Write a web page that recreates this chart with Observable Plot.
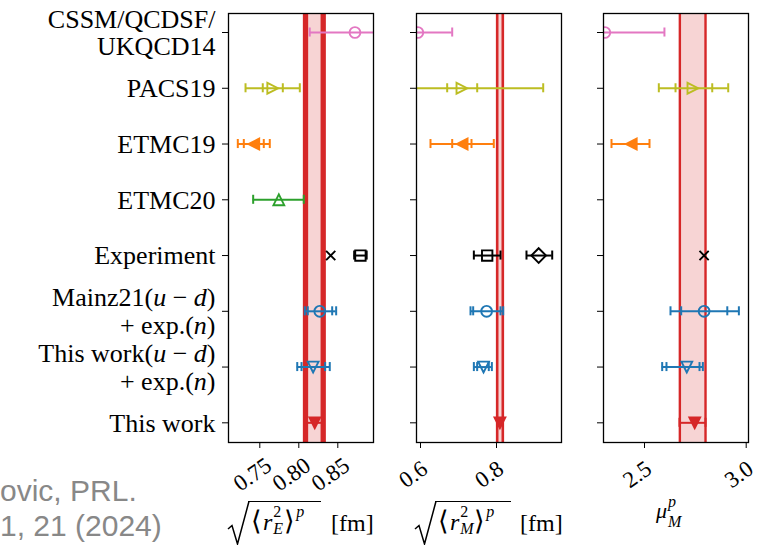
<!DOCTYPE html>
<html><head><meta charset="utf-8">
<script src="https://cdn.jsdelivr.net/npm/d3@7"></script>
<script src="https://cdn.jsdelivr.net/npm/@observablehq/plot@0.6"></script>
<style>
body{margin:0;background:#fff;}
#fig{position:relative;width:768px;height:545px;overflow:hidden;background:#fff;}
#fig > svg{position:absolute;left:0;top:0;}
.lab{position:absolute;height:47px;font:22px "Liberation Serif",serif;line-height:22px;color:#000;white-space:nowrap;}
.lab > *{position:absolute;}
.ov{box-sizing:border-box;border-top:1.6px solid #000;padding:7px 0 0 3px;font-size:24px;line-height:24px;}
.ss{display:inline-block;position:relative;width:12px;height:0;}
.ss .up{position:absolute;left:1px;bottom:10px;font-size:16px;line-height:16px;}
.ss .dn{position:absolute;left:1px;top:-9px;font-size:16px;line-height:16px;}
.br{display:inline-block;font-size:27px;line-height:24px;}
.fm{font-size:24px;line-height:24px;}
#cap{position:absolute;left:0;top:473px;font:30px "Liberation Sans",Arial,sans-serif;color:#888;line-height:35px;white-space:nowrap;}
</style></head><body><div id="fig"></div>
<script>
// ---------- categories (y tick labels, top to bottom) ----------
const categories = [
  "CSSM/QCDSF/\nUKQCD14",
  "PACS19",
  "ETMC19",
  "ETMC20",
  "Experiment",
  "Mainz21(_u_ − _d_)\n+ exp.(_n_)",
  "This work(_u_ − _d_)\n+ exp.(_n_)",
  "This work"
];
const rowIndex = [0, 1, 2, 3, 4, 5, 6, 7];

// ---------- panel 1: electric radius sqrt(<r_E^2>) [fm] ----------
const rERow    = [0, 1, 2, 3, 4, 4, 5, 6, 7];
const rEKind   = ["CSSM", "PACS19", "ETMC19", "ETMC20", "ExpMuH", "ExpEp", "Mainz21", "ThisUD", "ThisWork"];
const rEValue  = [0.872, 0.7666, 0.7423, 0.7744, 0.8409, 0.879, 0.8269, 0.8184, 0.8205];
const rEStatLo = [null, 0.7538, 0.7295, null, null, null, 0.8115, 0.8035, null];
const rEStatHi = [null, 0.7795, 0.7551, null, null, null, 0.8428, 0.8338, null];
const rETotLo  = [0.814, 0.7317, 0.7218, 0.7415, null, 0.871, 0.8077, 0.798, 0.8086];
const rETotHi  = [0.930, 0.8013, 0.7628, 0.8064, null, 0.887, 0.8479, 0.8397, 0.8313];
const rEBand   = [0.8086, 0.8313];
const rEDomain = [0.70987, 0.89577];
const rETicks  = [0.75, 0.80, 0.85];
const rETickLabels = ["0.75", "0.80", "0.85"];

// ---------- panel 2: magnetic radius sqrt(<r_M^2>) [fm] ----------
const rMRow    = [0, 1, 2, 4, 4, 5, 6, 7];
const rMKind   = ["CSSM", "PACS19", "ETMC19", "ExpEp", "ExpOther", "Mainz21", "ThisUD", "ThisWork"];
const rMValue  = [0.593, 0.709, 0.7096, 0.7755, 0.911, 0.774, 0.766, 0.809];
const rMStatLo = [null, 0.6702, 0.6834, null, null, 0.7386, 0.7491, null];
const rMStatHi = [null, 0.7492, 0.7342, null, null, 0.8105, 0.7797, null];
const rMTotLo  = [0.497, 0.495, 0.6263, 0.7404, 0.8789, 0.7316, 0.7404, 0.8018];
const rMTotHi  = [0.6834, 0.9229, 0.7929, 0.8105, 0.9466, 0.8176, 0.7878, 0.8166];
const rMBand   = [0.8018, 0.8166];
const rMDomain = [0.58947, 0.97105];
const rMTicks  = [0.6, 0.8];
const rMTickLabels = ["0.6", "0.8"];

// ---------- panel 3: magnetic moment mu_M^p ----------
const muRow    = [0, 1, 2, 4, 5, 6, 7];
const muKind   = ["CSSM", "PACS19", "ETMC19", "ExpMuH", "Mainz21", "ThisUD", "ThisWork"];
const muValue  = [2.305, 2.738, 2.435, 2.793, 2.793, 2.708, 2.747];
const muStatLo = [null, 2.6525, null, null, 2.6803, 2.608, null];
const muStatHi = [null, 2.833, null, null, 2.907, 2.7705, null];
const muTotLo  = [2.01, 2.5704, 2.3377, null, 2.6278, 2.5869, 2.672];
const muTotHi  = [2.598, 2.9116, 2.5246, null, 2.964, 2.7869, 2.800];
const muBand   = [2.6738, 2.800];
const muDomain = [2.2984, 3.0113];
const muTicks  = [2.5, 3.0];
const muTickLabels = ["2.5", "3.0"];

// ---------- styles ----------
const R = s => Math.sqrt(s / Math.PI);
const poly = pts => ({draw(ctx, size) {
  const r = R(size);
  ctx.moveTo(pts[0][0] * r, pts[0][1] * r);
  for (let k = 1; k < pts.length; k++) ctx.lineTo(pts[k][0] * r, pts[k][1] * r);
  ctx.closePath();
}});
const symbols = {
  circle: {draw(ctx, size) { const r = R(size); ctx.moveTo(r, 0); ctx.arc(0, 0, r, 0, 2 * Math.PI); }},
  triDown: poly([[0, 1], [-1, -1], [1, -1]]),
  triUp: poly([[0, -1], [-1, 1], [1, 1]]),
  triLeft: poly([[-1, 0], [1, -1], [1, 1]]),
  triRight: poly([[1, 0], [-1, -1], [-1, 1]]),
  square: poly([[-1, -1], [1, -1], [1, 1], [-1, 1]]),
  diamond: poly([[0, -1.41], [1.41, 0], [0, 1.41], [-1.41, 0]]),
  x: {draw(ctx, size) { const r = R(size); ctx.moveTo(-r, -r); ctx.lineTo(r, r); ctx.moveTo(-r, r); ctx.lineTo(r, -r); }}
};
const styles = {
  CSSM:     {color: "#e377c2", symbol: "circle",   filled: false, r: 5.4},
  PACS19:   {color: "#bcbd22", symbol: "triRight", filled: false, r: 5.4},
  ETMC19:   {color: "#ff7f0e", symbol: "triLeft",  filled: true,  r: 5.4},
  ETMC20:   {color: "#2ca02c", symbol: "triUp",    filled: false, r: 5.4},
  ExpMuH:   {color: "#000000", symbol: "x",        filled: false, r: 4.6},
  ExpEp:    {color: "#000000", symbol: "square",   filled: false, r: 5.2},
  ExpOther: {color: "#000000", symbol: "diamond",  filled: false, r: 5.2},
  Mainz21:  {color: "#1f77b4", symbol: "circle",   filled: false, r: 5.4},
  ThisUD:   {color: "#1f77b4", symbol: "triDown",  filled: false, r: 5.4},
  ThisWork: {color: "#d62728", symbol: "triDown",  filled: true,  r: 5.4}
};
const bandColor = "#d62728";
const capHalf = 0.081;  // in row units

function italicize(svg) {
  const NS = "http://www.w3.org/2000/svg";
  const walker = document.createTreeWalker(svg, NodeFilter.SHOW_TEXT);
  const nodes = [];
  while (walker.nextNode()) if (walker.currentNode.nodeValue.indexOf("_") >= 0) nodes.push(walker.currentNode);
  nodes.forEach(node => {
    const parent = node.parentNode;
    node.nodeValue.split("_").forEach((part, k) => {
      if (!part) return;
      if (k % 2) {
        const ts = document.createElementNS(NS, "tspan");
        ts.setAttribute("font-style", "italic");
        ts.textContent = part;
        parent.insertBefore(ts, node);
      } else {
        parent.insertBefore(document.createTextNode(part), node);
      }
    });
    parent.removeChild(node);
  });
}

function panel(o) {
  const idx = d3.range(o.value.length);
  const col = i => styles[o.kind[i]].color;
  const bars = [];
  const caps = [];
  idx.forEach(i => {
    if (o.totLo[i] != null) {
      bars.push({y: o.row[i], x1: o.totLo[i], x2: o.totHi[i], c: col(i)});
      caps.push({y: o.row[i], x: o.totLo[i], c: col(i)}, {y: o.row[i], x: o.totHi[i], c: col(i)});
    }
    if (o.statLo[i] != null) {
      caps.push({y: o.row[i], x: o.statLo[i], c: col(i)}, {y: o.row[i], x: o.statHi[i], c: col(i)});
    }
  });
  const marks = [
    Plot.rect([o.band], {x1: d => d[0], x2: d => d[1], fill: bandColor, fillOpacity: 0.2}),
    Plot.ruleX(o.band, {x: d => d, stroke: bandColor, strokeWidth: o.bandWidth}),
    Plot.ruleY(bars, {y: "y", x1: "x1", x2: "x2", stroke: "c", strokeWidth: 2, clip: true}),
    Plot.ruleX(caps, {x: "x", y1: d => d.y - capHalf, y2: d => d.y + capHalf, stroke: "c", strokeWidth: 2, clip: true}),
    ...idx.map(i => {
      const st = styles[o.kind[i]];
      return Plot.dot([i], {
        x: j => o.value[j], y: j => o.row[j], symbol: symbols[st.symbol], r: st.r,
        stroke: st.color, fill: st.filled ? st.color : "none", strokeWidth: 1.9, clip: true
      });
    }),
    Plot.text(o.ticks, {x: d => d, text: (d, i) => o.tickLabels[i], frameAnchor: "bottom", dy: 38, dx: -3,
      rotate: -35, fontSize: 23, fill: "#000"}),
    Plot.frame({stroke: "#000", strokeWidth: 1.3})
  ];
  if (o.showLabels) {
    marks.push(Plot.text(rowIndex, {y: i => i, text: i => categories[i], frameAnchor: "left",
      textAnchor: "end", dx: -13, fontSize: 26, lineHeight: 1.06, fill: "#000"}));
  }
  const svg = Plot.plot({
    width: 768, height: 545,
    marginTop: 13, marginBottom: 103, marginLeft: o.ml, marginRight: o.mr,
    style: {background: "transparent", fontFamily: "Liberation Serif, serif", color: "#000"},
    color: {type: "identity"},
    x: {domain: o.domain, ticks: o.ticks, tickSize: 6, tickFormat: () => "", label: null},
    y: {domain: [7.353, -0.341], ticks: rowIndex, tickSize: 6, tickFormat: () => "", label: null},
    marks
  });
  if (o.showLabels) italicize(svg);
  return svg;
}

const fig = document.getElementById("fig");
fig.appendChild(panel({row: rERow, kind: rEKind, value: rEValue, statLo: rEStatLo, statHi: rEStatHi,
  totLo: rETotLo, totHi: rETotHi, band: rEBand, domain: rEDomain, ticks: rETicks, tickLabels: rETickLabels,
  ml: 228, mr: 395, bandWidth: 5.3, showLabels: true}));
fig.appendChild(panel({row: rMRow, kind: rMKind, value: rMValue, statLo: rMStatLo, statHi: rMStatHi,
  totLo: rMTotLo, totHi: rMTotHi, band: rMBand, domain: rMDomain, ticks: rMTicks, tickLabels: rMTickLabels,
  ml: 416, mr: 207, bandWidth: 2.6, showLabels: false}));
fig.appendChild(panel({row: muRow, kind: muKind, value: muValue, statLo: muStatLo, statHi: muStatHi,
  totLo: muTotLo, totHi: muTotHi, band: muBand, domain: muDomain, ticks: muTicks, tickLabels: muTickLabels,
  ml: 603, mr: 20, bandWidth: 2.4, showLabels: false}));

// axis titles and caption
const radical = `<svg width="23" height="47" style="left:0;top:0"><path d="M1,31 L5,27.5 L10.5,46 L22,3.3" fill="none" stroke="#000" stroke-width="1.5"/></svg>`;
fig.insertAdjacentHTML("beforeend", `
<div class="lab" style="left:227px;top:498px;width:148px">${radical}
  <span class="ov" style="left:21px;top:2.5px;width:73px"><span class="br" style="margin-right:1px">⟨</span><i>r</i><span class="ss"><span class="up">2</span><span class="dn"><i>E</i></span></span><span class="br">⟩</span><span class="ss"><span class="up"><i>p</i></span></span></span>
  <span class="fm" style="left:104px;top:13px">[fm]</span>
</div>
<div class="lab" style="left:414px;top:498px;width:148px">${radical}
  <span class="ov" style="left:21px;top:2.5px;width:76px"><span class="br" style="margin-right:1px">⟨</span><i>r</i><span class="ss" style="width:15px"><span class="up">2</span><span class="dn"><i>M</i></span></span><span class="br">⟩</span><span class="ss"><span class="up"><i>p</i></span></span></span>
  <span class="fm" style="left:106px;top:13px">[fm]</span>
</div>
<div class="lab" style="left:656px;top:500px;width:40px">
  <span style="left:0;top:0"><i>μ</i><span class="ss" style="width:18px"><span class="up" style="bottom:8px"><i>p</i></span><span class="dn" style="top:-4px;font-size:16px"><i>M</i></span></span></span>
</div>
<div id="cap">ovic, PRL.<br>1, 21 (2024)</div>
`);
</script></body></html>
